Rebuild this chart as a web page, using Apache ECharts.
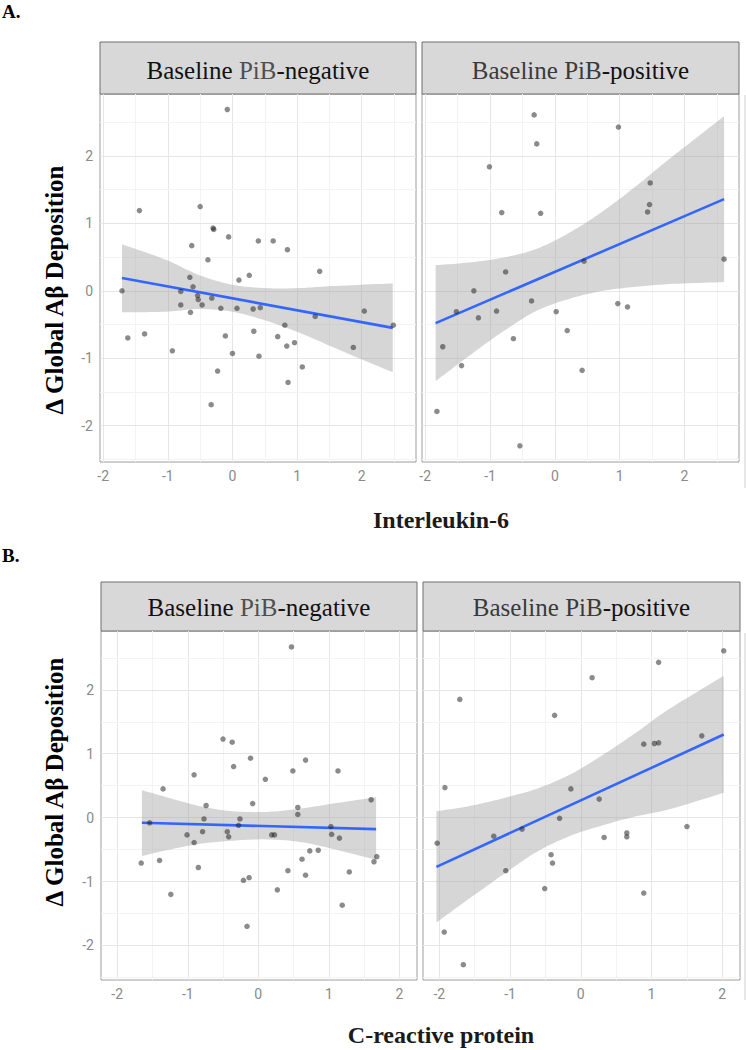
<!DOCTYPE html>
<html>
<head>
<meta charset="utf-8">
<script src="https://cdn.jsdelivr.net/npm/echarts@6/dist/echarts.min.js"></script>
<style>html,body{margin:0;padding:0;background:#fff}#c{width:746px;height:1050px}</style>
</head>
<body>
<div id="c"></div>
<script>
// ---------- Panel A : Interleukin-6 ----------
// Baseline PiB-negative
const aNegX = [-0.08,-1.44,-0.50,-0.30,-0.29,-0.06,0.40,0.63,0.85,-0.63,-0.38,1.35,0.26,0.10,-0.66,-0.61,-1.71,-0.80,-0.54,-0.53,-0.32,-0.80,-0.47,-0.65,-0.18,0.07,0.32,0.43,1.28,2.04,2.49,0.81,-1.62,-1.36,-0.11,0.33,0.70,0.84,0.96,-0.93,0.00,0.41,1.87,1.08,-0.23,0.86,-0.33];
const aNegY = [2.69,1.19,1.25,0.93,0.91,0.80,0.74,0.74,0.61,0.67,0.46,0.29,0.23,0.16,0.20,0.06,0.00,-0.01,-0.07,-0.13,-0.11,-0.21,-0.21,-0.32,-0.26,-0.26,-0.27,-0.25,-0.38,-0.30,-0.51,-0.51,-0.70,-0.64,-0.67,-0.60,-0.68,-0.82,-0.77,-0.89,-0.93,-0.97,-0.84,-1.13,-1.19,-1.36,-1.69];
const aNegFitX = [-1.71, 2.48];
const aNegFitY = [0.19, -0.55];
const aNegBandX = [-1.71,-1.03,-0.51,0.00,0.51,1.03,1.54,2.48];
const aNegBandHi = [0.69,0.46,0.23,0.09,0.04,0.04,0.07,0.11];
const aNegBandLo = [-0.32,-0.31,-0.27,-0.31,-0.44,-0.62,-0.83,-1.21];
// Baseline PiB-positive
const aPosX = [-0.32,-0.28,0.98,-1.01,1.47,1.46,1.43,-0.82,-0.22,2.61,0.45,-0.76,-1.25,-1.52,-1.18,-0.90,-0.36,0.02,0.97,1.12,0.19,-0.64,-1.73,-1.44,0.42,-1.82,-0.54];
const aPosY = [2.61,2.18,2.43,1.84,1.60,1.28,1.17,1.16,1.15,0.47,0.44,0.28,0.00,-0.31,-0.40,-0.30,-0.15,-0.31,-0.19,-0.24,-0.59,-0.71,-0.83,-1.11,-1.18,-1.79,-2.30];
const aPosFitX = [-1.84, 2.61];
const aPosFitY = [-0.48, 1.36];
const aPosBandX = [-1.84,-1.33,-0.81,-0.29,0.22,0.74,1.26,1.77,2.61];
const aPosBandHi = [0.38,0.42,0.49,0.62,0.86,1.18,1.56,1.96,2.59];
const aPosBandLo = [-1.34,-0.97,-0.61,-0.30,-0.12,0.00,0.06,0.10,0.13];

// ---------- Panel B : C-reactive protein ----------
const bNegX = [0.47,-0.50,-0.37,-0.11,0.67,-0.35,0.49,1.13,-0.91,0.10,-1.35,1.60,-0.08,-0.74,0.56,0.56,-0.77,-0.26,-0.28,-1.54,-1.01,-0.79,-0.44,-0.42,-0.91,0.19,0.23,1.03,1.04,1.15,0.73,0.85,1.68,1.64,-1.66,-1.40,0.62,-0.85,0.42,0.67,1.29,-0.21,-0.13,0.27,-1.24,1.19,-0.16];
const bNegY = [2.67,1.23,1.18,0.93,0.90,0.80,0.73,0.73,0.67,0.60,0.45,0.28,0.22,0.19,0.16,0.05,-0.02,-0.02,-0.12,-0.08,-0.27,-0.22,-0.22,-0.30,-0.39,-0.27,-0.27,-0.14,-0.26,-0.32,-0.52,-0.51,-0.61,-0.69,-0.71,-0.67,-0.65,-0.78,-0.83,-0.90,-0.85,-0.98,-0.94,-1.13,-1.20,-1.37,-1.70];
const bNegFitX = [-1.65, 1.67];
const bNegFitY = [-0.08, -0.18];
const bNegBandX = [-1.65,-1.30,-0.83,-0.36,0.12,0.59,1.06,1.67];
const bNegBandHi = [0.43,0.32,0.18,0.10,0.09,0.14,0.22,0.32];
const bNegBandLo = [-0.60,-0.51,-0.41,-0.36,-0.34,-0.38,-0.49,-0.66];
// Baseline PiB-positive
const bPosX = [2.02,1.10,0.16,-1.71,-0.37,1.71,0.89,1.04,1.10,-1.92,-0.14,0.26,-0.30,1.50,-2.03,-1.23,-0.83,0.33,0.65,0.65,-0.42,-0.40,-1.06,-0.51,0.89,-1.93,-1.66];
const bPosY = [2.61,2.43,2.19,1.85,1.60,1.28,1.15,1.16,1.17,0.47,0.45,0.29,-0.01,-0.14,-0.40,-0.29,-0.18,-0.31,-0.24,-0.30,-0.58,-0.71,-0.83,-1.11,-1.18,-1.79,-2.30];
const bPosFitX = [-2.04, 2.02];
const bPosFitY = [-0.77, 1.30];
const bPosBandX = [-2.04,-1.58,-1.11,-0.63,-0.16,0.31,0.78,1.25,2.02];
const bPosBandHi = [0.10,0.18,0.30,0.45,0.67,0.98,1.33,1.70,2.22];
const bPosBandLo = [-1.64,-1.27,-0.90,-0.54,-0.29,-0.12,0.02,0.13,0.39];

// ---------- axes ----------
const tickLabels = [-2, -1, 0, 1, 2];
const minorBreaks = [-2.5, -1.5, -0.5, 0.5, 1.5, 2.5];
const xRangeA = [-2.05, 2.84];
const xRangeB = [-2.23, 2.25];
const yRange = [-2.54, 2.92];

const stripLabels = ['Baseline PiB-negative', 'Baseline PiB-positive'];
const yTitle = 'Δ Global Aβ Deposition';
const xTitleA = 'Interleukin-6';
const xTitleB = 'C-reactive protein';

// ---------- layout ----------
const grids = [
  {left: 100, top: 94, width: 316, height: 368},
  {left: 422, top: 94, width: 317, height: 368},
  {left: 101, top: 631, width: 316, height: 349},
  {left: 423, top: 631, width: 317, height: 349}
];
const panels = [
  {x: aNegX, y: aNegY, fx: aNegFitX, fy: aNegFitY, bx: aNegBandX, hi: aNegBandHi, lo: aNegBandLo, xr: xRangeA, showY: true},
  {x: aPosX, y: aPosY, fx: aPosFitX, fy: aPosFitY, bx: aPosBandX, hi: aPosBandHi, lo: aPosBandLo, xr: xRangeA, showY: false},
  {x: bNegX, y: bNegY, fx: bNegFitX, fy: bNegFitY, bx: bNegBandX, hi: bNegBandHi, lo: bNegBandLo, xr: xRangeB, showY: true},
  {x: bPosX, y: bPosY, fx: bPosFitX, fy: bPosFitY, bx: bPosBandX, hi: bPosBandHi, lo: bPosBandLo, xr: xRangeB, showY: false}
];

const SERIF = "'Liberation Serif','Times New Roman',serif";
const TICKFONT = "'Liberation Sans Narrow','Roboto','DejaVu Sans',sans-serif";
const borderCol = '#9d9d9d';

// smooth drawing curve through pixel points (Catmull-Rom), used only for rendering the band outline
function smoothPts(pts) {
  const out = [];
  const n = pts.length;
  for (let i = 0; i < n - 1; i++) {
    const p0 = pts[Math.max(i - 1, 0)], p1 = pts[i], p2 = pts[i + 1], p3 = pts[Math.min(i + 2, n - 1)];
    for (let s = 0; s < 12; s++) {
      const t = s / 12, t2 = t * t, t3 = t2 * t;
      out.push([0, 1].map(d => 0.5 * (2 * p1[d] + (-p0[d] + p2[d]) * t + (2 * p0[d] - 5 * p1[d] + 4 * p2[d] - p3[d]) * t2 + (-p0[d] + 3 * p1[d] - 3 * p2[d] + p3[d]) * t3)));
    }
  }
  out.push(pts[n - 1]);
  return out;
}

const xAxes = [], yAxes = [], series = [];
panels.forEach((p, i) => {
  const inX = v => v >= p.xr[0] && v <= p.xr[1];
  const inY = v => v >= yRange[0] && v <= yRange[1];
  xAxes.push({
    type: 'value', gridIndex: i, min: p.xr[0], max: p.xr[1],
    axisLine: {show: false},
    axisTick: {show: true, length: 4, customValues: tickLabels, lineStyle: {color: borderCol}},
    axisLabel: {customValues: tickLabels, color: '#8a8a8a', fontSize: 14, margin: 7, fontFamily: TICKFONT},
    splitLine: {show: false}
  });
  yAxes.push({
    type: 'value', gridIndex: i, min: yRange[0], max: yRange[1],
    axisLine: {show: false},
    axisTick: {show: p.showY, length: 4, customValues: tickLabels, lineStyle: {color: borderCol}},
    axisLabel: {show: p.showY, customValues: tickLabels, color: '#8a8a8a', fontSize: 14, margin: 7, fontFamily: TICKFONT},
    splitLine: {show: false}
  });
  const gl = [];
  tickLabels.filter(inX).forEach(v => gl.push({xAxis: v, lineStyle: {color: '#e6e6e6', width: 1, type: 'solid'}}));
  minorBreaks.filter(inX).forEach(v => gl.push({xAxis: v, lineStyle: {color: '#f3f3f3', width: 1, type: 'solid'}}));
  tickLabels.filter(inY).forEach(v => gl.push({yAxis: v, lineStyle: {color: '#e6e6e6', width: 1, type: 'solid'}}));
  minorBreaks.filter(inY).forEach(v => gl.push({yAxis: v, lineStyle: {color: '#f3f3f3', width: 1, type: 'solid'}}));

  // confidence band as one polygon (upper edge left->right, lower edge right->left)
  series.push({
    type: 'custom', xAxisIndex: i, yAxisIndex: i, z: 2, silent: true, animation: false,
    data: p.bx.map((x, k) => [x, p.lo[k], p.hi[k]]),
    encode: {x: 0, y: [1, 2]},
    renderItem: (params, api) => {
      if (params.dataIndex !== 0) return null;
      const up = p.bx.map((x, k) => api.coord([x, p.hi[k]]));
      const lo = p.bx.map((x, k) => api.coord([x, p.lo[k]])).reverse();
      const pts = smoothPts(up).concat(smoothPts(lo));
      return {type: 'polygon', shape: {points: pts}, style: {fill: 'rgba(153,153,153,0.4)', stroke: null}};
    },
    markLine: {silent: true, symbol: ['none', 'none'], z: 1, animation: false, label: {show: false}, emphasis: {disabled: true}, data: gl}
  });
  series.push({
    type: 'line', xAxisIndex: i, yAxisIndex: i, z: 3,
    data: p.fx.map((x, k) => [x, p.fy[k]]),
    symbol: 'none', lineStyle: {color: '#3366FF', width: 2.6}, silent: true, animation: false
  });
  series.push({
    type: 'scatter', xAxisIndex: i, yAxisIndex: i, z: 4,
    data: p.x.map((x, k) => [x, p.y[k]]),
    symbolSize: 5.5, itemStyle: {color: 'rgba(30,30,30,0.64)'}, silent: true, animation: false
  });
});

const stripBoxes = [
  {x: 100, y: 42, w: 316, h: 52, ty: 70, neg: true},
  {x: 422, y: 42, w: 317, h: 52, ty: 70, neg: false},
  {x: 101, y: 582, w: 316, h: 49, ty: 607, neg: true},
  {x: 423, y: 582, w: 317, h: 49, ty: 607, neg: false}
];
const graphic = [];
stripBoxes.forEach(s => {
  graphic.push({type: 'rect', shape: {x: s.x, y: s.y, width: s.w, height: s.h},
    style: {fill: '#d9d8d9', stroke: '#6e6e6e', lineWidth: 1}, silent: true});
  const lbl = s.neg ? stripLabels[0] : stripLabels[1];
  const parts = lbl.split('PiB');
  const txt = s.neg
    ? '{k|' + parts[0] + '}{g|PiB}{k|' + parts[1] + '}'
    : '{g|' + parts[0] + 'PiB}{k|' + parts[1] + '}';
  graphic.push({type: 'text', x: s.x + s.w / 2, y: s.ty, silent: true,
    style: {text: txt, align: 'center', verticalAlign: 'middle', textAlign: 'center', textVerticalAlign: 'middle',
      rich: {
        k: {fontFamily: SERIF, fontSize: 25, fill: '#111111', color: '#111111'},
        g: {fontFamily: SERIF, fontSize: 25, fill: s.neg ? '#4f4f4f' : '#3a3a3a', color: s.neg ? '#4f4f4f' : '#3a3a3a'}
      }}});
});
// panel letters
[['A.', 11], ['B.', 555]].forEach(([t, y]) => {
  graphic.push({type: 'text', x: 2, y: y, silent: true,
    style: {text: t, font: 'bold 19px ' + SERIF, fill: '#000', align: 'left', verticalAlign: 'middle', textAlign: 'left', textVerticalAlign: 'middle'}});
});
// y titles
[290, 782].forEach(y => {
  graphic.push({type: 'text', x: 54, y: y, rotation: Math.PI / 2, silent: true,
    style: {text: yTitle, font: 'bold 25px ' + SERIF, fill: '#000', align: 'center', verticalAlign: 'middle', textAlign: 'center', textVerticalAlign: 'middle'}});
});
// x titles
[[xTitleA, 520], [xTitleB, 1035]].forEach(([t, y]) => {
  graphic.push({type: 'text', x: 441, y: y, silent: true,
    style: {text: t, font: 'bold 24px ' + SERIF, fill: '#1a1a1a', align: 'center', verticalAlign: 'middle', textAlign: 'center', textVerticalAlign: 'middle'}});
});
// thin edge lines at right margin
[[95, 488], [633, 1000]].forEach(([y1, y2]) => {
  graphic.push({type: 'line', shape: {x1: 745, y1: y1, x2: 745, y2: y2}, style: {stroke: '#cfcfcf', lineWidth: 1}, silent: true});
});

const chart = echarts.init(document.getElementById('c'), null, {renderer: 'svg', width: 746, height: 1050});
chart.setOption({
  animation: false,
  backgroundColor: '#ffffff',
  grid: grids.map(g => Object.assign({show: true, borderColor: borderCol, borderWidth: 1, backgroundColor: 'transparent'}, g)),
  xAxis: xAxes,
  yAxis: yAxes,
  series: series,
  graphic: graphic
});
</script>
</body>
</html>
